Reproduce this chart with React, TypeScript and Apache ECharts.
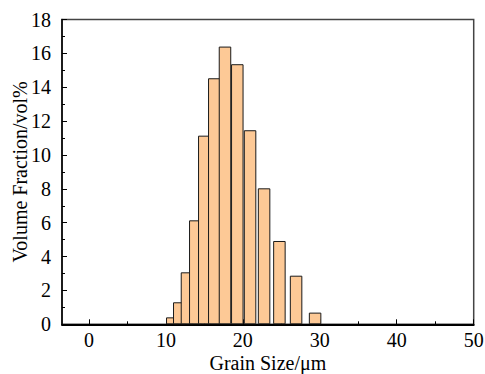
import React, { useEffect, useRef } from "react";
import * as echarts from "echarts";

const grainSize = [10.83, 11.74, 12.74, 13.82, 14.99, 16.29, 17.68, 19.28, 20.94, 22.76, 24.75, 26.92, 29.39];
const volumeFraction = [0.41, 1.3, 3.07, 6.14, 11.14, 14.53, 16.4, 15.36, 11.46, 8.03, 4.92, 2.87, 0.69];
const xMajorTicks = [0, 10, 20, 30, 40, 50];
const xMinorTicks = [5, 15, 25, 35, 45];

const FONT = "'Liberation Serif', 'Times New Roman', serif";

export default function App() {
  const ref = useRef<HTMLDivElement>(null);
  useEffect(() => {
    if (!ref.current) return;
    const chart = echarts.init(ref.current, null, { renderer: "svg" });
    const data = grainSize.map((x, i) => [x, volumeFraction[i]]);
    chart.setOption({
      animation: false,
      backgroundColor: "#fff",
      grid: {
        left: 62,
        right: 11.3,
        top: 19.5,
        bottom: 49.7,
        containLabel: false,
        outerBoundsMode: "none",
        show: true,
        borderColor: "#444",
        borderWidth: 1.5,
        backgroundColor: "transparent",
      },
      xAxis: [
        {
          type: "value",
          min: -3.5,
          max: 50,
          name: "Grain Size/μm",
          nameLocation: "middle",
          nameGap: 29,
          nameMoveOverlap: false,
          nameTextStyle: { fontFamily: FONT, fontSize: 20, color: "#000", lineHeight: 20 },
          axisLine: { show: true, onZero: false, lineStyle: { color: "#000", width: 2 } },
          axisTick: { show: true, inside: true, length: 5, customValues: xMajorTicks, lineStyle: { color: "#000", width: 1 } },
          axisLabel: { show: true, customValues: xMajorTicks, fontFamily: FONT, fontSize: 20, color: "#000", margin: 6 },
          splitLine: { show: false },
        },
        {
          type: "value",
          min: -3.5,
          max: 50,
          position: "bottom",
          axisLine: { show: false },
          axisTick: { show: true, inside: true, length: 3, customValues: xMinorTicks, lineStyle: { color: "#000", width: 1 } },
          axisLabel: { show: false },
          splitLine: { show: false },
        },
      ],
      yAxis: {
        type: "value",
        min: 0,
        max: 18,
        interval: 2,
        name: "Volume Fraction/vol%",
        nameLocation: "middle",
        nameGap: 32,
        nameMoveOverlap: false,
        nameTextStyle: { fontFamily: FONT, fontSize: 20, color: "#000", lineHeight: 20 },
        axisLine: { show: true, onZero: false, lineStyle: { color: "#000", width: 1.5 } },
        axisTick: { show: true, inside: true, length: 5, lineStyle: { color: "#000", width: 1 } },
        minorTick: { show: true, splitNumber: 2, length: 3, lineStyle: { color: "#000", width: 1 } },
        axisLabel: { fontFamily: FONT, fontSize: 20, color: "#000", margin: 11 },
        splitLine: { show: false },
        minorSplitLine: { show: false },
      },
      series: [
        {
          type: "bar",
          xAxisIndex: 0,
          data,
          barWidth: 12.5,
          itemStyle: { color: "#FDC996", borderColor: "#1a1a1a", borderWidth: 1 },
        },
      ],
    });
    return () => chart.dispose();
  }, []);
  return <div ref={ref} style={{ position: "fixed", left: 0, top: 0, width: 485, height: 374 }} />;
}
